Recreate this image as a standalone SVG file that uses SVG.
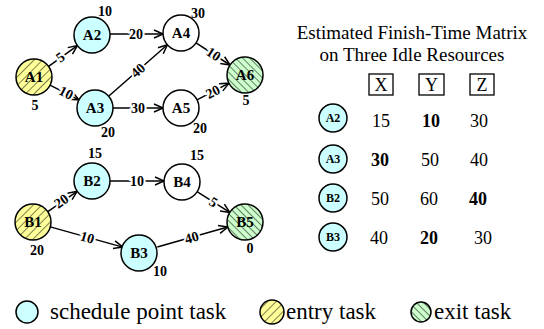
<svg xmlns="http://www.w3.org/2000/svg" width="544" height="329" viewBox="0 0 544 329">
<style>
text{font-family:"Liberation Serif","Times New Roman",Times,"DejaVu Serif",serif}
.n{stroke:#000;stroke-width:1.5}
.sp{fill:#ccffff}
.pl{fill:#fff}
.nl{font-weight:bold;font-size:15px;text-anchor:middle}
.w{font-weight:bold;font-size:14px;text-anchor:middle}
.el{font-weight:bold;font-size:14px;text-anchor:middle;stroke:#fff;stroke-width:4;paint-order:stroke;fill:#000}
.e{stroke:#000;stroke-width:1.5;fill:none;marker-end:url(#ah)}
.t{font-size:19px;text-anchor:middle}
.v{font-size:18px;text-anchor:middle}
.b{font-weight:bold}
.ml{font-weight:bold;font-size:12px;text-anchor:middle}
.lg{font-size:23px}
</style>
<defs>
<pattern id="hy" patternUnits="userSpaceOnUse" width="6" height="6" patternTransform="rotate(45)">
<rect width="6" height="6" fill="#ffff99"/>
<line x1="0" y1="0" x2="0" y2="6" stroke="#000" stroke-width="1"/>
</pattern>
<pattern id="hg" patternUnits="userSpaceOnUse" width="5" height="5" patternTransform="rotate(-45)">
<rect width="5" height="5" fill="#ccffcc"/>
<line x1="0" y1="0" x2="0" y2="5" stroke="#000" stroke-width="1"/>
</pattern>
<marker id="ah" markerUnits="userSpaceOnUse" markerWidth="12" markerHeight="12" refX="10" refY="5" orient="auto">
<path d="M1,1 L10,5 L1,9" fill="none" stroke="#000" stroke-width="1.5"/>
</marker>
</defs>

<g id="connectors">
<line class="e" x1="48.6" y1="66.4" x2="77.4" y2="45.6"/>
<line class="e" x1="50" y1="85.2" x2="79" y2="99.8"/>
<line class="e" x1="110" y1="34" x2="163" y2="34"/>
<line class="e" x1="108.6" y1="96.2" x2="167.4" y2="44.8"/>
<line class="e" x1="113" y1="108" x2="163" y2="108"/>
<line class="e" x1="196" y1="42.9" x2="230" y2="65"/>
<line class="e" x1="197" y1="99.8" x2="229" y2="83.2"/>
<line class="e" x1="47.8" y1="211.7" x2="77.2" y2="191.3"/>
<line class="e" x1="50.3" y1="226.9" x2="122.7" y2="247.1"/>
<line class="e" x1="110" y1="181" x2="164" y2="181"/>
<line class="e" x1="197" y1="191.6" x2="229.8" y2="212.4"/>
<line class="e" x1="157.3" y1="247" x2="227.7" y2="227"/>
<text class="el" transform="translate(63,61) rotate(-36)">5</text>
<text class="el" transform="translate(64,97) rotate(27)">10</text>
<text class="el" x="136" y="39">20</text>
<text class="el" transform="translate(141,74) rotate(-41)">40</text>
<text class="el" x="138" y="113">30</text>
<text class="el" transform="translate(211,58) rotate(33)">10</text>
<text class="el" transform="translate(215,96) rotate(-27)">20</text>
<text class="el" transform="translate(64,205) rotate(-35)">20</text>
<text class="el" transform="translate(86,242) rotate(16)">10</text>
<text class="el" x="137" y="186">10</text>
<text class="el" transform="translate(211,206) rotate(32)">5</text>
<text class="el" transform="translate(193,242) rotate(-16)">40</text>
</g>

<g id="A1"><circle class="n" cx="34" cy="77" r="18" fill="url(#hy)"/><text class="nl" x="34" y="82">A1</text><text class="w" x="35" y="110">5</text></g>
<g id="A2"><circle class="n sp" cx="92" cy="35" r="18"/><text class="nl" x="92" y="40">A2</text><text class="w" x="105" y="16">10</text></g>
<g id="A3"><circle class="n sp" cx="95" cy="108" r="18"/><text class="nl" x="95" y="113">A3</text><text class="w" x="108" y="137">20</text></g>
<g id="A4"><circle class="n pl" cx="181" cy="33" r="18"/><text class="nl" x="181" y="38">A4</text><text class="w" x="198" y="18">30</text></g>
<g id="A5"><circle class="n pl" cx="181" cy="108" r="18"/><text class="nl" x="181" y="113">A5</text><text class="w" x="200" y="133">20</text></g>
<g id="A6"><circle class="n" cx="245" cy="75" r="18" fill="url(#hg)"/><text class="nl" x="245" y="80">A6</text><text class="w" x="246" y="105">5</text></g>

<g id="B1"><circle class="n" cx="33" cy="222" r="18" fill="url(#hy)"/><text class="nl" x="33" y="227">B1</text><text class="w" x="37" y="255">20</text></g>
<g id="B2"><circle class="n sp" cx="92" cy="181" r="18"/><text class="nl" x="92" y="186">B2</text><text class="w" x="95" y="158">15</text></g>
<g id="B3"><circle class="n sp" cx="139" cy="253" r="18"/><text class="nl" x="139" y="258">B3</text><text class="w" x="160" y="276">10</text></g>
<g id="B4"><circle class="n pl" cx="182" cy="182" r="18"/><text class="nl" x="182" y="187">B4</text><text class="w" x="197" y="160">15</text></g>
<g id="B5"><circle class="n" cx="245" cy="222" r="18" fill="url(#hg)"/><text class="nl" x="245" y="227">B5</text><text class="w" x="250" y="253">0</text></g>

<g id="matrix">
<text class="t" x="412" y="39">Estimated Finish-Time Matrix</text>
<text class="t" x="412" y="61">on Three Idle Resources</text>
<rect x="369" y="74" width="24" height="21" fill="none" stroke="#000" stroke-width="1.3"/>
<rect x="419" y="74" width="25" height="21" fill="none" stroke="#000" stroke-width="1.3"/>
<rect x="470" y="74" width="24" height="21" fill="none" stroke="#000" stroke-width="1.3"/>
<text class="v" x="381" y="91">X</text>
<text class="v" x="431.5" y="91">Y</text>
<text class="v" x="482" y="91">Z</text>
<circle class="n sp" cx="333" cy="118" r="14"/><text class="ml" x="333" y="122">A2</text>
<circle class="n sp" cx="333" cy="159" r="14"/><text class="ml" x="333" y="163">A3</text>
<circle class="n sp" cx="333" cy="198" r="14"/><text class="ml" x="333" y="202">B2</text>
<circle class="n sp" cx="333" cy="237" r="14"/><text class="ml" x="333" y="241">B3</text>
<text class="v" x="381" y="127">15</text><text class="v b" x="431" y="127">10</text><text class="v" x="479" y="127">30</text>
<text class="v b" x="380" y="166">30</text><text class="v" x="430" y="166">50</text><text class="v" x="479" y="166">40</text>
<text class="v" x="380" y="205">50</text><text class="v" x="429" y="205">60</text><text class="v b" x="478" y="205">40</text>
<text class="v" x="379" y="244">40</text><text class="v b" x="429" y="244">20</text><text class="v" x="483" y="244">30</text>
</g>

<g id="legend">
<circle class="n sp" cx="27" cy="312" r="11"/>
<text class="lg" x="50" y="319">schedule point task</text>
<circle class="n" cx="272" cy="312" r="12" fill="url(#hy)"/>
<text class="lg" x="286" y="319">entry task</text>
<circle class="n" cx="421" cy="312" r="10" fill="url(#hg)"/>
<text class="lg" x="434" y="319">exit task</text>
</g>
</svg>
